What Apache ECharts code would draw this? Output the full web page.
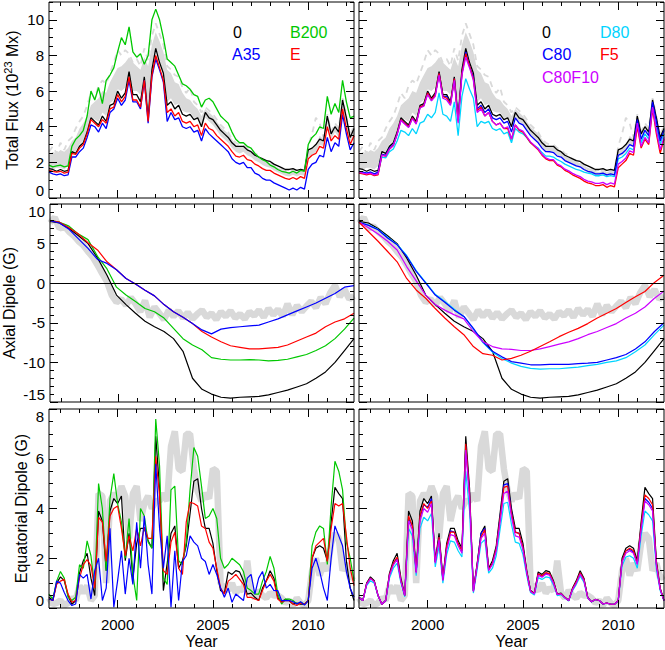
<!DOCTYPE html>
<html>
<head>
<meta charset="utf-8">
<script src="https://cdn.jsdelivr.net/npm/echarts@6.0.0/dist/echarts.min.js"></script>
<style>html,body{margin:0;padding:0;background:#fff;}#chart{width:665px;height:650px;}</style>
</head>
<body>
<div id="chart"></div>
<script>
// ================= DATA =================
const X_MIN = 1996.4, X_MAX = 2012.4;
const X_TICK_LABELS = [2000, 2005, 2010];
const Y_TICKS_FLUX = [0, 2, 4, 6, 8, 10];
const Y_TICKS_AXIAL = [-15, -10, -5, 0, 5, 10];
const Y_TICKS_EQ = [0, 2, 4, 6, 8];

const NAMES_LEFT = ['0', 'A35', 'B200', 'E'];
const NAMES_RIGHT = ['0', 'C80', 'D80', 'F5', 'C80F10'];
const Y_TITLES = ['Total Flux (10', '23', ' Mx)', 'Axial Dipole (G)', 'Equatorial Dipole (G)'];
const X_TITLE = 'Year';

const YEARS = [1996.4,1996.6,1996.8,1997,1997.2,1997.4,1997.6,1997.8,1998,1998.2,
 1998.4,1998.6,1998.8,1999,1999.2,1999.4,1999.6,1999.8,2000,2000.2,
 2000.4,2000.6,2000.8,2001,2001.2,2001.4,2001.6,2001.8,2002,2002.2,
 2002.4,2002.6,2002.8,2003,2003.2,2003.4,2003.6,2003.8,2004,2004.2,
 2004.4,2004.6,2004.8,2005,2005.2,2005.4,2005.6,2005.8,2006,2006.2,
 2006.4,2006.6,2006.8,2007,2007.2,2007.4,2007.6,2007.8,2008,2008.2,
 2008.4,2008.6,2008.8,2009,2009.2,2009.4,2009.6,2009.8,2010,2010.2,
 2010.4,2010.6,2010.8,2011,2011.2,2011.4,2011.6,2011.8,2012,2012.2,
 2012.4];
const YEARS_MID = [1996.4,1996.9,1997.4,1997.9,1998.4,1998.9,1999.4,1999.9,2000.4,2000.9,
 2001.4,2001.9,2002.4,2002.9,2003.4,2003.9,2004.4,2004.9,2005.4,2005.9,
 2006.4,2006.9,2007.4,2007.9,2008.4,2008.9,2009.4,2009.9,2010.4,2010.9,
 2011.4,2011.9,2012.4];
const YEARS_OBS_AX = [1996.4,1996.65,1996.9,1997.15,1997.4,1997.65,1997.9,1998.15,1998.4,1998.65,
 1998.9,1999.15,1999.4,1999.65,1999.9,2000.15,2000.4,2000.65,2000.9,2001.15,
 2001.4,2001.65,2001.9,2002.15,2002.4,2002.65,2002.9,2003.15,2003.4,2003.65,
 2003.9,2004.15,2004.4,2004.65,2004.9,2005.15,2005.4,2005.65,2005.9,2006.15,
 2006.4,2006.65,2006.9,2007.15,2007.4,2007.65,2007.9,2008.15,2008.4,2008.65,
 2008.9,2009.15,2009.4,2009.65,2009.9,2010.15,2010.4,2010.65,2010.9,2011.15,
 2011.4,2011.65,2011.9,2012.15,2012.4];

// ---- Total flux (10^23 Mx) ----
const FLUX_OBS_LO = [1.6,1.6,1.7,1.7,1.6,1.8,2.5,2.6,3.0,3.2,
 3.8,4.5,4.4,4.3,4.8,4.6,5.3,5.5,6.1,6.0,
 6.2,6.8,6.0,6.0,5.8,6.9,5.0,7.3,8.4,7.8,
 7.0,5.4,5.6,5.2,5.3,4.9,4.8,4.8,4.5,4.5,
 4.0,4.5,4.3,4.1,3.8,3.5,3.3,3.1,2.8,2.6,
 2.5,2.6,2.4,2.3,2.1,2.0,1.85,1.75,1.7,1.55,
 1.45,1.35,1.25,1.2,1.3,1.2,1.3,1.25,2.3,2.4,
 2.6,3.0,2.9,4.2,3.3,3.7,3.4,5.1,4.1,3.1,
 3.6];
const FLUX_OBS_HI = [2.4,2.6,2.5,2.7,2.6,2.8,3.2,3.4,3.9,4.2,
 4.6,5.2,5.4,5.6,6.0,5.9,6.5,6.9,7.3,7.4,
 7.6,7.9,7.6,7.4,7.2,7.9,7.4,8.6,9.3,8.8,
 8.2,7.2,7.0,6.5,6.4,5.9,5.6,5.5,5.2,5.0,
 4.6,5.0,4.8,4.6,4.3,4.0,3.8,3.6,3.3,3.0,
 2.9,2.9,2.7,2.6,2.4,2.3,2.15,2.05,1.95,1.8,
 1.7,1.6,1.5,1.45,1.55,1.45,1.55,1.45,2.6,2.8,
 3.0,3.5,3.3,4.6,3.6,4.1,3.8,5.5,4.5,3.4,
 4.0];
const FLUX_OBS_DASH = [2.6,2.9,2.5,3.1,2.7,3.2,3.4,3.9,4.3,4.6,
 5.2,5.9,5.6,6.3,6.6,6.4,7.0,7.6,8.3,8.0,
 8.3,8.1,7.6,7.8,7.4,8.4,7.7,9.1,9.8,9.2,
 8.6,7.4,7.2,6.9,6.8,6.2,5.9,6.2,5.4,5.2,
 4.8,5.1,4.9,4.7,4.4,4.1,3.9,3.7,3.3,3.1,
 3.0,3.0,2.8,2.7,2.5,2.4,2.2,2.1,2.0,1.85,
 1.75,1.65,1.55,1.5,1.6,1.5,1.6,1.5,2.9,3.6,
 4.5,4.2,3.4,4.7,3.7,4.2,3.9,5.6,4.6,3.5,
 4.1];
const FLUX_0 = [1.65,1.6,1.5,1.6,1.5,1.55,2.6,2.5,2.9,3.1,
 3.7,4.5,4.3,4.1,4.6,4.3,5.2,5.3,6.0,5.6,
 5.9,7.1,5.8,5.8,5.4,6.8,4.5,7.2,8.4,7.6,
 7.0,5.2,5.4,5.0,5.2,4.7,4.6,4.7,4.4,4.5,
 4.0,4.8,4.5,4.4,4.1,3.8,3.6,3.4,3.1,2.9,
 2.9,2.9,2.7,2.6,2.4,2.3,2.2,2.1,2.05,1.9,
 1.8,1.7,1.6,1.6,1.65,1.55,1.6,1.55,2.7,2.8,
 3.0,3.3,3.2,4.6,3.6,4.0,3.7,5.5,4.5,3.4,
 3.9];
const FLUX_E = [1.55,1.5,1.45,1.5,1.4,1.45,2.5,2.45,2.8,3.0,
 3.6,4.4,4.2,4.0,4.4,4.2,5.0,5.1,5.8,5.4,
 5.7,6.8,5.5,5.5,5.1,6.6,4.3,6.9,8.0,7.3,
 6.6,4.8,5.0,4.6,4.8,4.3,4.2,4.3,4.0,4.1,
 3.5,4.2,3.9,3.8,3.5,3.3,3.1,2.9,2.6,2.35,
 2.3,2.4,2.15,2.1,1.9,1.8,1.65,1.55,1.55,1.4,
 1.3,1.2,1.1,1.05,1.15,1.05,1.2,1.1,2.2,2.4,
 2.5,2.9,2.8,4.0,3.2,3.5,3.3,5.0,3.9,3.0,
 3.5];
const FLUX_A35 = [1.45,1.35,1.3,1.35,1.25,1.3,2.3,2.3,2.6,2.8,
 3.4,4.1,4.0,3.7,4.2,3.9,4.8,5.0,5.6,5.2,
 5.5,6.6,5.4,5.4,5.0,6.6,4.2,6.8,7.8,7.2,
 6.5,4.3,4.8,4.4,4.5,4.0,3.9,4.0,3.7,3.8,
 3.2,3.9,3.6,3.4,3.2,3.0,2.8,2.6,2.2,2.0,
 1.9,2.0,1.7,1.7,1.4,1.3,1.1,1.0,1.0,0.85,
 0.75,0.65,0.55,0.45,0.55,0.45,0.6,0.5,1.6,1.9,
 2.0,2.4,2.3,3.4,2.6,3.1,2.9,4.7,3.6,2.7,
 3.1];
const FLUX_B200 = [1.85,1.75,1.8,1.85,1.75,1.8,2.9,3.3,3.5,3.8,
 4.6,6.0,5.5,6.2,5.3,6.6,6.9,7.3,8.2,9.0,
 8.6,9.6,8.2,7.9,8.1,7.5,8.0,10.0,10.6,10.0,
 9.0,7.8,7.6,7.4,6.9,6.4,6.3,6.1,5.8,5.7,
 5.1,5.5,5.6,5.4,5.0,4.6,4.4,4.2,3.7,3.3,
 3.1,3.1,2.9,2.8,2.5,2.3,2.15,2.05,1.85,1.75,
 1.6,1.5,1.45,1.4,1.5,1.4,1.55,1.5,3.0,3.4,
 3.6,4.0,3.9,5.7,4.7,5.3,4.8,6.6,5.4,4.5,
 4.6];
const FLUX_C80 = [1.5,1.45,1.4,1.45,1.35,1.45,2.45,2.4,2.8,3.0,
 3.6,4.4,4.2,4.0,4.5,4.2,5.1,5.2,5.9,5.5,
 5.8,7.0,5.7,5.7,5.3,6.7,4.4,7.0,8.2,7.4,
 6.8,5.0,5.2,4.8,5.0,4.5,4.4,4.5,4.2,4.3,
 3.7,4.5,4.2,4.1,3.8,3.5,3.3,3.1,2.8,2.6,
 2.6,2.55,2.35,2.3,2.1,2.0,1.9,1.8,1.75,1.6,
 1.5,1.45,1.35,1.35,1.4,1.3,1.35,1.3,2.4,2.5,
 2.7,3.0,2.9,4.4,3.3,3.8,3.5,5.4,4.3,3.2,
 3.8];
const FLUX_D80 = [1.5,1.45,1.4,1.45,1.35,1.4,2.3,2.25,2.6,2.75,
 3.2,3.8,3.7,3.5,3.9,3.6,4.2,4.3,4.7,4.5,
 4.8,5.9,4.7,4.6,4.3,5.4,3.5,5.7,6.7,6.1,
 5.6,4.0,4.3,4.2,4.3,3.9,3.8,3.9,3.6,3.7,
 3.1,3.9,3.7,3.6,3.4,3.1,2.95,2.8,2.55,2.35,
 2.35,2.3,2.15,2.05,1.9,1.8,1.7,1.6,1.55,1.45,
 1.4,1.35,1.25,1.25,1.3,1.2,1.25,1.2,2.2,2.3,
 2.5,2.8,2.7,4.2,3.1,3.6,3.3,5.1,4.0,3.0,
 3.6];
const FLUX_F5 = [1.4,1.35,1.3,1.35,1.25,1.3,2.4,2.35,2.75,2.95,
 3.6,4.4,4.2,4.0,4.5,4.2,5.1,5.2,5.9,5.5,
 5.8,7.0,5.7,5.6,5.3,6.7,4.3,7.0,8.1,7.4,
 6.7,4.9,5.1,4.6,4.8,4.3,4.1,4.2,3.9,3.9,
 3.3,4.1,3.8,3.7,3.4,3.1,2.9,2.7,2.4,2.2,
 2.1,2.1,1.85,1.75,1.55,1.45,1.3,1.2,1.1,0.95,
 0.85,0.8,0.7,0.7,0.75,0.6,0.7,0.62,1.7,1.9,
 2.1,2.5,2.4,4.0,2.8,3.3,3.0,5.0,3.6,2.5,
 3.3];
const FLUX_C80F10 = [1.45,1.4,1.35,1.4,1.3,1.35,2.4,2.35,2.75,2.95,
 3.55,4.35,4.15,3.95,4.45,4.15,5.05,5.15,5.8,5.45,
 5.7,6.9,5.6,5.5,5.2,6.6,4.2,6.9,7.9,7.3,
 6.6,4.8,5.0,4.6,4.8,4.3,4.1,4.2,3.9,4.0,
 3.3,4.1,3.85,3.75,3.45,3.15,2.95,2.75,2.45,2.25,
 2.15,2.15,1.9,1.8,1.62,1.52,1.38,1.28,1.2,1.05,
 0.95,0.9,0.82,0.82,0.88,0.75,0.85,0.78,1.9,2.05,
 2.25,2.65,2.55,4.2,2.9,3.4,3.1,5.1,3.8,2.7,
 3.4];

// ---- Axial dipole (G) ----
const AX_OBS = [7.6,8.3,6.9,7.2,6.5,6.0,5.3,4.8,4.0,3.3,
 2.3,1.2,0.2,-1.5,-2.4,-2.0,-2.8,-1.8,-2.6,-3.6,
 -2.2,-4.3,-3.0,-3.8,-4.6,-3.4,-4.2,-3.5,-4.4,-3.7,
 -4.5,-3.9,-3.4,-4.3,-3.8,-4.6,-3.6,-4.2,-3.5,-4.4,
 -3.9,-4.5,-3.6,-4.1,-3.4,-4.3,-3.2,-4.0,-3.3,-4.2,
 -2.6,-4.0,-2.8,-3.6,-2.9,-2.3,-3.1,-1.8,-2.6,-1.2,
 -0.3,-1.7,-0.8,-2.0,-1.6];
const AX_0 = [7.8,7.6,6.9,6.0,5.0,3.2,1.0,-1.5,-2.7,-3.8,
 -4.8,-5.5,-6.1,-7.0,-8.6,-12.0,-13.4,-14.0,-14.4,-14.5,
 -14.4,-14.35,-14.3,-14.1,-13.8,-13.5,-13.1,-12.7,-12.0,-11.2,
 -10.0,-8.5,-7.0];
const AX_B200 = [7.9,7.7,7.2,6.2,5.5,3.4,1.8,-0.5,-1.5,-2.3,
 -3.2,-3.6,-4.4,-5.7,-7.0,-7.8,-8.4,-9.4,-9.6,-9.7,
 -9.7,-9.65,-9.7,-9.8,-9.75,-9.6,-9.3,-9.0,-8.5,-7.9,
 -7.0,-5.8,-4.4];
const AX_E = [7.9,7.7,7.0,6.2,5.1,4.2,2.7,1.7,0.6,-0.1,
 -0.9,-1.6,-2.7,-3.6,-4.3,-5.1,-6.1,-6.8,-7.4,-7.9,
 -8.1,-8.3,-8.3,-8.2,-8.1,-7.8,-7.3,-6.8,-6.3,-5.5,
 -4.9,-4.5,-3.8];
const AX_A35 = [7.9,7.6,6.8,5.6,4.4,3.0,2.5,1.7,0.6,-0.1,
 -0.9,-1.6,-2.7,-3.6,-4.3,-5.1,-5.9,-6.4,-5.8,-5.6,
 -5.5,-5.4,-5.3,-4.9,-4.5,-4.0,-3.5,-3.0,-2.5,-1.9,
 -1.3,-0.5,-0.3];
const AX_C80 = [7.7,7.3,6.75,5.7,4.85,3.4,1.5,0.0,-1.5,-2.4,
 -3.4,-4.2,-5.7,-7.4,-8.6,-9.3,-9.9,-10.1,-10.3,-10.3,
 -10.25,-10.25,-10.25,-10.15,-10.1,-10.0,-9.7,-9.4,-9.0,-8.3,
 -7.4,-6.1,-5.0];
const AX_D80 = [7.7,7.35,6.8,5.8,4.9,3.5,1.6,0.1,-1.4,-2.3,
 -3.3,-4.2,-5.8,-7.5,-8.7,-9.5,-10.1,-10.5,-10.75,-10.85,
 -10.8,-10.8,-10.7,-10.6,-10.4,-10.25,-10.0,-9.8,-9.4,-8.65,
 -7.8,-6.5,-5.3];
const AX_C80F10 = [7.7,7.0,6.2,5.3,4.2,2.1,0.3,-1.5,-2.7,-3.4,
 -4.0,-4.5,-6.1,-7.4,-8.0,-8.3,-8.35,-8.5,-8.5,-8.3,
 -8.0,-7.7,-7.4,-7.0,-6.5,-6.1,-5.6,-5.1,-4.4,-3.8,
 -3.0,-1.9,-1.0];
const AX_F5 = [7.7,6.5,5.3,4.0,2.7,0.6,-0.85,-1.9,-3.2,-4.4,
 -5.5,-6.5,-8.0,-8.9,-9.1,-9.7,-9.5,-9.1,-8.6,-8.0,
 -7.4,-6.75,-6.2,-5.7,-5.1,-4.4,-3.8,-3.2,-2.45,-1.7,
 -1.05,0.1,1.0];

// ---- Equatorial dipole (G) ----
const EQ_OBS = [0.4,0.15,0.2,0.3,0.1,0.2,0.4,0.3,0.9,0.6,
 0.9,0.3,0.5,4.6,4.5,1.0,4.3,4.6,4.4,4.9,
 4.5,2.8,4.6,4.9,3.5,4.2,4.5,4.0,4.3,4.3,
 4.6,4.3,6.5,7.1,5.6,5.5,7.0,7.0,5.6,4.7,
 4.3,4.6,4.4,5.6,5.5,1.0,0.8,0.7,1.0,0.6,
 0.8,0.7,1.9,0.6,0.4,0.7,0.5,0.4,0.6,0.5,
 0.5,0.4,0.2,0.3,0.1,0.4,0.2,0.1,0.3,1.5,
 2.0,1.3,1.8,1.5,2.6,3.0,2.8,1.5,1.8,1.2,
 1.3];
const EQ_0 = [0.43,0.3,1.0,1.25,1.1,0.5,0.15,0.3,1.4,1.9,
 2.2,1.2,0.5,3.9,3.5,1.5,3.9,4.4,4.2,4.5,
 1.9,3.0,1.2,2.6,3.2,3.2,2.7,2.4,6.9,4.8,
 0.7,1.8,3.0,3.3,1.6,1.9,2.5,3.8,5.1,5.2,
 4.0,3.2,3.2,2.6,1.5,0.7,0.6,1.45,1.35,1.5,
 1.45,1.1,0.56,0.6,0.43,0.3,0.8,1.1,1.5,1.2,
 0.43,0.25,0.35,0.3,0.16,0.2,0.15,0.15,0.3,2.0,
 2.4,2.5,2.4,1.9,3.45,4.85,4.6,4.4,1.9,0.8,
 0.3];
const EQ_B200 = [0.56,0.36,1.08,1.47,1.2,0.43,0.3,0.43,1.74,1.6,
 2.7,2.1,0.8,5.0,4.0,1.5,4.4,5.4,4.2,3.45,
 2.0,3.6,1.35,0.3,4.0,3.7,2.65,2.4,7.6,5.7,
 1.2,0.95,4.75,4.9,1.9,1.75,2.65,4.75,6.45,6.1,
 4.9,3.6,3.7,4.0,3.6,2.0,1.6,1.75,2.0,1.87,
 1.74,1.47,0.8,0.7,0.56,0.56,1.08,1.47,2.07,1.6,
 0.56,0.16,0.36,0.36,0.3,0.16,0.23,0.16,0.3,2.5,
 3.05,3.3,3.2,1.75,4.1,5.9,5.5,4.75,2.65,2.0,
 1.08];
const EQ_E = [0.36,0.3,0.95,1.08,1.15,0.56,0.23,0.3,1.2,1.74,
 1.95,1.7,0.8,3.64,3.45,1.87,3.7,4.0,4.1,3.2,
 2.1,2.9,2.3,3.2,2.5,3.25,2.8,2.8,6.1,4.5,
 1.5,1.35,2.65,3.05,1.6,1.35,3.45,4.25,4.2,4.1,
 3.3,3.2,2.65,2.4,1.6,0.8,0.56,1.08,1.2,1.35,
 1.15,0.95,0.43,0.43,0.36,0.3,0.7,1.08,1.35,1.08,
 0.36,0.23,0.3,0.3,0.16,0.1,0.2,0.15,0.3,2.0,
 2.5,2.65,2.8,1.87,3.2,4.2,4.1,4.2,2.9,1.6,
 0.9];
const EQ_A35 = [0.36,0.3,1.08,1.0,0.62,0.3,0.1,0.16,1.35,1.2,
 1.35,0.36,1.5,2.0,0.3,0.8,3.2,0.03,1.1,2.3,
 0.56,2.0,0.95,3.45,1.6,3.7,1.75,0.56,5.8,3.2,
 1.6,2.9,0.03,2.3,0.3,1.87,2.1,2.9,2.65,2.5,
 2.0,1.87,1.35,1.75,1.35,0.8,0.43,0.8,0.23,0.56,
 0.43,0.3,1.2,1.35,0.56,1.2,1.47,0.8,0.95,0.7,
 0.7,0.3,0.3,0.3,0.25,0.16,0.25,0.12,0.3,1.6,
 2.0,1.47,0.8,0.3,2.0,3.3,2.9,2.5,1.47,0.8,
 0.43];
const EQ_F5 = [0.42,0.3,0.97,1.2,1.07,0.5,0.15,0.3,1.35,1.8,
 2.05,1.1,0.5,3.7,3.3,1.45,3.7,4.2,4.0,4.3,
 1.85,2.85,1.15,2.5,3.05,3.05,2.6,2.3,6.6,4.6,
 0.68,1.75,2.85,3.15,1.55,1.8,2.4,3.6,4.85,4.9,
 3.8,3.05,3.0,2.45,1.45,0.68,0.58,1.38,1.3,1.42,
 1.38,1.05,0.55,0.58,0.42,0.3,0.77,1.05,1.42,1.15,
 0.42,0.25,0.34,0.3,0.16,0.2,0.15,0.15,0.3,1.9,
 2.3,2.4,2.3,1.8,3.3,4.55,4.4,4.15,1.8,0.78,
 0.3];
const EQ_C80 = [0.42,0.3,0.97,1.2,1.07,0.5,0.15,0.3,1.35,1.8,
 2.0,1.1,0.5,3.6,3.3,1.45,3.65,4.15,4.05,4.4,
 1.85,2.85,1.15,2.45,3.1,3.05,2.6,2.3,6.5,4.6,
 0.68,1.75,3.0,3.2,1.55,1.8,2.4,3.65,4.95,5.0,
 3.85,3.05,3.0,2.45,1.45,0.68,0.58,1.38,1.28,1.4,
 1.36,1.04,0.55,0.58,0.42,0.3,0.76,1.04,1.4,1.14,
 0.42,0.25,0.34,0.3,0.16,0.2,0.15,0.15,0.3,1.9,
 2.3,2.35,2.25,1.8,3.25,4.4,4.25,4.0,1.75,0.76,
 0.3];
const EQ_C80F10 = [0.42,0.3,0.95,1.18,1.05,0.5,0.15,0.3,1.3,1.72,
 1.95,1.05,0.5,3.5,3.15,1.4,3.5,4.0,3.85,4.2,
 1.8,2.75,1.1,2.35,2.95,2.9,2.5,2.2,6.35,4.4,
 0.66,1.7,2.8,3.0,1.5,1.75,2.3,3.45,4.6,4.7,
 3.65,2.9,2.85,2.35,1.4,0.66,0.56,1.32,1.24,1.36,
 1.32,1.0,0.54,0.57,0.41,0.3,0.74,1.0,1.36,1.1,
 0.41,0.25,0.34,0.3,0.16,0.2,0.15,0.15,0.3,1.85,
 2.2,2.3,2.2,1.75,3.15,4.3,4.15,3.9,1.7,0.75,
 0.3];
const EQ_D80 = [0.4,0.3,0.9,1.1,1.0,0.48,0.15,0.28,1.2,1.6,
 1.8,1.0,0.45,3.2,2.9,1.3,3.2,3.65,3.5,3.8,
 1.65,2.5,1.0,2.15,2.7,2.65,2.3,2.05,5.5,3.9,
 0.6,1.55,2.6,2.75,1.4,1.6,2.1,3.15,4.2,4.25,
 3.35,2.65,2.6,2.15,1.3,0.62,0.52,1.22,1.15,1.25,
 1.22,0.93,0.5,0.54,0.4,0.28,0.7,0.95,1.28,1.04,
 0.4,0.24,0.33,0.29,0.15,0.19,0.15,0.15,0.28,1.7,
 2.05,2.1,2.0,1.6,2.9,3.9,3.75,3.5,1.55,0.7,
 0.28];

// ================= STYLE / LAYOUT =================
const FONT = '"Liberation Sans", Arial, Helvetica, sans-serif';
const C = { k:'#000000', b:'#0000ff', g:'#00c800', r:'#ff0000', c:'#00d4ff', m:'#cc00ff', gray:'#d9d9d9' };
const GRIDS = [
  {left:49, top:2, width:305, height:196}, {left:359, top:2, width:305, height:196},
  {left:49, top:204, width:305, height:198}, {left:359, top:204, width:305, height:198},
  {left:49, top:409, width:305, height:203}, {left:359, top:409, width:305, height:203}
];
function steps(a, b, s) { const r = []; for (let i = 0; a + i * s <= b + 1e-9; i++) r.push(+(a + i * s).toFixed(3)); return r; }
const X_MINOR = steps(1997, 2012, 1);
const ROWS = [
  {min:0, max:11, major:Y_TICKS_FLUX, minor:steps(0, 11, 0.5), vMax:null},
  {min:-15, max:10, major:Y_TICKS_AXIAL, minor:steps(-15, 10, 1), vMax:'top'},
  {min:0, max:8, major:Y_TICKS_EQ, minor:steps(0, 8, 0.5), vMax:'top'}
];
const NAME_CFG = [
  {name:'{n|' + Y_TITLES[0] + '}{s|' + Y_TITLES[1] + '}{n|' + Y_TITLES[2] + '}', gap:27},
  {name:Y_TITLES[3], gap:33},
  {name:Y_TITLES[4], gap:20}
];

const xAxis = [], yAxis = [], series = [], XI = [], YI = [];
const tickStyle = {color:'#000', width:1};
GRIDS.forEach((g, gi) => {
  const row = Math.floor(gi / 2), col = gi % 2, R = ROWS[row];
  const xc = {gridIndex:gi, type:'value', min:X_MIN, max:X_MAX, splitLine:{show:false}, axisLine:{show:false, onZero:false}, z:10};
  XI.push(xAxis.length);
  xAxis.push(Object.assign({}, xc, {position:'bottom',
    axisTick:{show:true, inside:true, length:8, customValues:X_TICK_LABELS, lineStyle:tickStyle},
    axisLabel:{show: row === 2, customValues:X_TICK_LABELS, formatter: v => String(v), fontSize:15, color:'#000', fontFamily:FONT, margin:9},
    name: row === 2 ? X_TITLE : '', nameLocation:'middle', nameGap:25,
    nameTextStyle:{fontSize:16, color:'#000', fontFamily:FONT}}));
  xAxis.push(Object.assign({}, xc, {position:'bottom', axisTick:{show:true, inside:true, length:4, customValues:X_MINOR, lineStyle:tickStyle}, axisLabel:{show:false}}));
  xAxis.push(Object.assign({}, xc, {position:'top', axisTick:{show:true, inside:true, length:8, customValues:X_TICK_LABELS, lineStyle:tickStyle}, axisLabel:{show:false}}));
  xAxis.push(Object.assign({}, xc, {position:'top', axisTick:{show:true, inside:true, length:4, customValues:X_MINOR, lineStyle:tickStyle}, axisLabel:{show:false}}));

  const yc = {gridIndex:gi, type:'value', min:R.min, max:R.max, splitLine:{show:false}, axisLine:{show:false, onZero:false}, z:10};
  YI.push(yAxis.length);
  const lab = {show: col === 0, customValues:R.major, formatter: v => String(v), fontSize:15, color:'#000', fontFamily:FONT, margin:5, verticalAlignMinLabel:'bottom'};
  if (R.vMax) lab.verticalAlignMaxLabel = R.vMax;
  const yMain = Object.assign({}, yc, {position:'left', axisTick:{show:true, inside:true, length:8, customValues:R.major, lineStyle:tickStyle}, axisLabel:lab});
  if (col === 0) {
    const nc = NAME_CFG[row];
    Object.assign(yMain, {name:nc.name, nameLocation:'middle', nameGap:nc.gap, nameRotate:90,
      nameTextStyle:{fontSize:16, color:'#000', fontFamily:FONT,
        rich:{n:{fontSize:16, color:'#000', fontFamily:FONT, lineHeight:20}, s:{fontSize:11, color:'#000', fontFamily:FONT, lineHeight:12, verticalAlign:'top'}}}});
  }
  yAxis.push(yMain);
  yAxis.push(Object.assign({}, yc, {position:'left', axisTick:{show:true, inside:true, length:4, customValues:R.minor, lineStyle:tickStyle}, axisLabel:{show:false}}));
  yAxis.push(Object.assign({}, yc, {position:'right', axisTick:{show:true, inside:true, length:8, customValues:R.major, lineStyle:tickStyle}, axisLabel:{show:false}}));
  yAxis.push(Object.assign({}, yc, {position:'right', axisTick:{show:true, inside:true, length:4, customValues:R.minor, lineStyle:tickStyle}, axisLabel:{show:false}}));
});

function addLine(gi, name, xs, ys, color, width, extra) {
  series.push(Object.assign({type:'line', name:name, xAxisIndex:XI[gi], yAxisIndex:YI[gi],
    data: xs.map((x, i) => [x, ys[i]]), showSymbol:false, symbol:'none', clip:true,
    lineStyle:{color:color, width:width}, itemStyle:{color:color}, animation:false, silent:true}, extra || {}));
}
function addBand(gi, xs, lo, hi) {
  series.push({type:'custom', name:'obs band', xAxisIndex:XI[gi], yAxisIndex:YI[gi], data:[[xs[0], lo[0]]], clip:true, silent:true, animation:false,
    renderItem: (params, api) => {
      const pts = [];
      for (let i = 0; i < xs.length; i++) pts.push(api.coord([xs[i], hi[i]]));
      for (let i = xs.length - 1; i >= 0; i--) pts.push(api.coord([xs[i], lo[i]]));
      return {type:'polygon', shape:{points:pts}, style:{fill:C.gray}};
    }});
}

// Top row: total flux
[0, 1].forEach(gi => {
  addBand(gi, YEARS, FLUX_OBS_LO, FLUX_OBS_HI);
  addLine(gi, 'obs2', YEARS, FLUX_OBS_DASH, C.gray, 1.8, {lineStyle:{color:C.gray, width:1.8, type:[6, 5]}});
  addLine(gi, '0', YEARS, FLUX_0, C.k, 1.3);
});
addLine(0, 'B200', YEARS, FLUX_B200, C.g, 1.3);
addLine(0, 'A35', YEARS, FLUX_A35, C.b, 1.3);
addLine(0, 'E', YEARS, FLUX_E, C.r, 1.3);
addLine(1, 'D80', YEARS, FLUX_D80, C.c, 1.3);
addLine(1, 'C80', YEARS, FLUX_C80, C.b, 1.3);
addLine(1, 'F5', YEARS, FLUX_F5, C.r, 1.3);
addLine(1, 'C80F10', YEARS, FLUX_C80F10, C.m, 1.3);

// Middle row: axial dipole
[2, 3].forEach(gi => {
  addLine(gi, 'obs', YEARS_OBS_AX, AX_OBS, C.gray, 6.5, {markLine:{silent:true, symbol:['none', 'none'], label:{show:false}, animation:false,
    lineStyle:{color:'#000', type:'solid', width:1.2}, data:[{yAxis:0}]}});
  addLine(gi, '0', YEARS_MID, AX_0, C.k, 1.2);
});
addLine(2, 'B200', YEARS_MID, AX_B200, C.g, 1.2);
addLine(2, 'E', YEARS_MID, AX_E, C.r, 1.2);
addLine(2, 'A35', YEARS_MID, AX_A35, C.b, 1.2);
addLine(3, 'D80', YEARS_MID, AX_D80, C.c, 1.2);
addLine(3, 'C80', YEARS_MID, AX_C80, C.b, 1.2);
addLine(3, 'C80F10', YEARS_MID, AX_C80F10, C.m, 1.2);
addLine(3, 'F5', YEARS_MID, AX_F5, C.r, 1.2);

// Bottom row: equatorial dipole
[4, 5].forEach(gi => {
  addLine(gi, 'obs', YEARS, EQ_OBS, C.gray, 6.5);
  addLine(gi, '0', YEARS, EQ_0, C.k, 1.2);
});
addLine(4, 'B200', YEARS, EQ_B200, C.g, 1.2);
addLine(4, 'E', YEARS, EQ_E, C.r, 1.2);
addLine(4, 'A35', YEARS, EQ_A35, C.b, 1.2);
addLine(5, 'D80', YEARS, EQ_D80, C.c, 1.2);
addLine(5, 'C80', YEARS, EQ_C80, C.b, 1.2);
addLine(5, 'F5', YEARS, EQ_F5, C.r, 1.2);
addLine(5, 'C80F10', YEARS, EQ_C80F10, C.m, 1.2);

// Legends (plain coloured text, like the original)
const LEG_POS = {
  left:  {'0':[233, 32, C.k], 'B200':[290, 32, C.g], 'A35':[232, 54, C.b], 'E':[290, 54, C.r]},
  right: {'0':[542, 32, C.k], 'D80':[600, 32, C.c], 'C80':[542, 54, C.b], 'F5':[600, 54, C.r], 'C80F10':[542, 77, C.m]}
};
const graphic = [];
NAMES_LEFT.forEach(n => { const p = LEG_POS.left[n]; graphic.push({type:'text', x:p[0], y:p[1], silent:true, z:20,
  style:{text:n, fill:p[2], font:'16px ' + FONT, textAlign:'left', textVerticalAlign:'middle'}}); });
NAMES_RIGHT.forEach(n => { const p = LEG_POS.right[n]; graphic.push({type:'text', x:p[0], y:p[1], silent:true, z:20,
  style:{text:n, fill:p[2], font:'16px ' + FONT, textAlign:'left', textVerticalAlign:'middle'}}); });

const chart = echarts.init(document.getElementById('chart'), null, {renderer:'svg', width:665, height:650});
chart.setOption({
  animation:false,
  backgroundColor:'#ffffff',
  textStyle:{fontFamily:FONT},
  grid: GRIDS.map(g => Object.assign({show:true, borderColor:'#000', borderWidth:1, backgroundColor:'transparent', containLabel:false, z:10}, g)),
  xAxis: xAxis,
  yAxis: yAxis,
  series: series,
  graphic: graphic
});
</script>
</body>
</html>
